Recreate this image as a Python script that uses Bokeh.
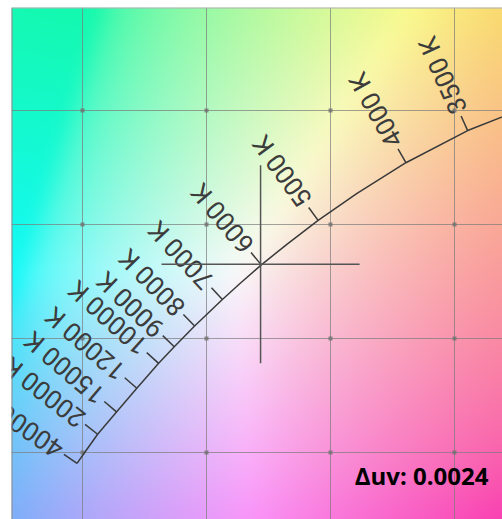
import numpy as np
from bokeh.plotting import figure
from bokeh.models import Range1d, Span, Label
from bokeh.core.properties import value
from bokeh.embed import file_html
from bokeh.resources import INLINE

# ---- data (CIE 1931 x, y) ----
locus_cct = [3000, 3500, 4000, 4500, 5000, 5500, 6000, 6500, 7000, 8000,
             9000, 10000, 12000, 15000, 20000, 30000, 40000]
locus_x = [0.4371, 0.4053, 0.3804, 0.3607, 0.3450, 0.3324, 0.3221, 0.3135,
           0.3064, 0.2952, 0.2870, 0.2807, 0.2719, 0.2637, 0.2561, 0.2508, 0.2478]
locus_y = [0.4048, 0.3912, 0.3771, 0.3637, 0.3518, 0.3413, 0.3323, 0.3241,
           0.3171, 0.3055, 0.2964, 0.2891, 0.2782, 0.2678, 0.2580, 0.2499, 0.2452]
label_cct = [3500, 4000, 5000, 6000, 7000, 8000, 9000, 10000, 12000, 15000, 20000, 40000]
grid_x = [0.25, 0.30, 0.35, 0.40]
grid_y = [0.25, 0.30, 0.35, 0.40]
test_x = [0.3218]
test_y = [0.3326]
delta_uv = 0.0024

X_RANGE = (0.22137, 0.41935)
Y_RANGE = (0.22061, 0.44518)
W, H = 502, 519
ML, MT = 11, 7
FW, FH = W - ML, H - MT

p = figure(width=W, height=H, x_range=Range1d(*X_RANGE), y_range=Range1d(*Y_RANGE),
           output_backend="svg", toolbar_location=None,
           min_border_left=ML, min_border_right=0, min_border_top=MT, min_border_bottom=0)
p.xaxis.visible = False
p.yaxis.visible = False
p.outline_line_color = None
p.border_fill_color = "white"

# ---- chromaticity background ----
nx, ny = FW, FH
xs = np.linspace(X_RANGE[0], X_RANGE[1], nx)
ys = np.linspace(Y_RANGE[0], Y_RANGE[1], ny)
gx, gy = np.meshgrid(xs, ys)
XYZ = np.stack([gx / gy, np.ones_like(gx), (1 - gx - gy) / gy], axis=-1)
M = np.array([[3.2406, -1.5372, -0.4986],
              [-0.9689, 1.8758, 0.0415],
              [0.0557, -0.2040, 1.0570]])
rgb = XYZ @ M.T
rgb = rgb / rgb.max(axis=-1, keepdims=True)
rgb = np.clip(rgb, 0, 1)
rgb = np.where(rgb <= 0.0031308, 12.92 * rgb, 1.055 * rgb ** (1 / 2.4) - 0.055)


def box_blur(a, r, axis):
    pad = [(0, 0)] * a.ndim
    pad[axis] = (r + 1, r)
    b = np.pad(a, pad, mode="edge")
    c = np.cumsum(b, axis=axis)
    hi = np.take(c, np.arange(2 * r + 1, c.shape[axis]), axis=axis)
    lo = np.take(c, np.arange(0, c.shape[axis] - 2 * r - 1), axis=axis)
    return (hi - lo) / (2 * r + 1)


for _ in range(2):
    rgb = box_blur(rgb, 10, 0)
    rgb = box_blur(rgb, 10, 1)
rgb = 0.9 * rgb + 0.1 * 0.78
img = np.empty((ny, nx), dtype=np.uint32)
view = img.view(dtype=np.uint8).reshape((ny, nx, 4))
view[..., 0:3] = np.round(np.clip(rgb, 0, 1) * 255).astype(np.uint8)
view[..., 3] = 255
p.image_rgba(image=[img], x=X_RANGE[0], y=Y_RANGE[0],
             dw=X_RANGE[1] - X_RANGE[0], dh=Y_RANGE[1] - Y_RANGE[0], level="image")

# ---- grid ----
p.xgrid.ticker = grid_x
p.ygrid.ticker = grid_y
for g in (p.xgrid, p.ygrid):
    g.grid_line_color = "#7a7a7a"
    g.grid_line_alpha = 0.7
    g.grid_line_width = 1
gxx, gyy = np.meshgrid(grid_x, grid_y)
p.scatter(gxx.ravel(), gyy.ravel(), marker="square", size=4,
          fill_color="#707070", line_color=None, fill_alpha=0.8)

# ---- locus ----
p.line(locus_x, locus_y, line_color="#3a3a3a", line_width=1.5)

sx = FW / (X_RANGE[1] - X_RANGE[0])
sy = FH / (Y_RANGE[1] - Y_RANGE[0])
px = np.array(locus_x) * sx
py = np.array(locus_y) * sy
n = len(locus_cct)
tick_len, gap = 16, 4
x0s, y0s, x1s, y1s, lxs, lys, angs, txts = [], [], [], [], [], [], [], []
for cct in label_cct:
    i = locus_cct.index(cct)
    i0, i1 = max(i - 1, 0), min(i + 1, n - 1)
    tx, ty = px[i0] - px[i1], py[i0] - py[i1]
    L = np.hypot(tx, ty)
    nxv, nyv = -ty / L, tx / L
    x0s.append(locus_x[i]); y0s.append(locus_y[i])
    x1s.append(locus_x[i] + nxv * tick_len / sx)
    y1s.append(locus_y[i] + nyv * tick_len / sy)
    lxs.append(locus_x[i] + nxv * (tick_len + gap) / sx)
    lys.append(locus_y[i] + nyv * (tick_len + gap) / sy)
    angs.append(float(np.arctan2(nyv, nxv)))
    txts.append(f"{cct} K")

p.segment(x0s, y0s, x1s, y1s, line_color="#3a3a3a", line_width=1.5)
p.text(lxs, lys, text=txts, angle=angs, text_align="left", text_baseline="middle",
       text_font=value("Roboto"), text_font_size="26px", text_color="#3c3c3c")

# ---- test point crosshair ----
p.scatter(test_x, test_y, marker="cross", size=198, line_color="#555555",
          line_width=1.5, fill_color=None)

# ---- frame borders (left / top) ----
p.add_layout(Span(location=X_RANGE[0], dimension="height", line_color="#8a8a8a", line_width=2))
p.add_layout(Span(location=Y_RANGE[1], dimension="width", line_color="#b0b0b0", line_width=2))

p.add_layout(Label(x=0.4137, y=0.2397, text=f"Δuv: {delta_uv:.4f}",
                   text_align="right", text_baseline="middle",
                   text_font="Open Sans", text_font_style="bold",
                   text_font_size="24px", text_color="black"))

open("out.html", "w").write(file_html(p, INLINE))
